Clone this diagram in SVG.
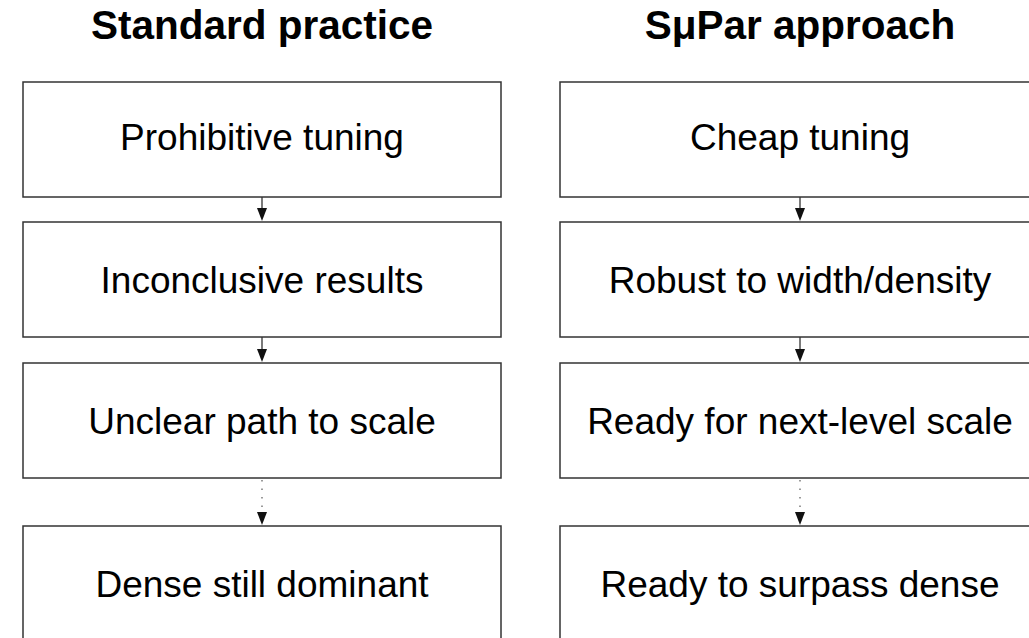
<svg xmlns="http://www.w3.org/2000/svg" width="1029" height="638" viewBox="0 0 1029 638">
<style>
.box{fill:#fff;stroke:#333;stroke-width:1.5}
.lbl{font-family:"Liberation Sans",Arial,sans-serif;font-size:37px;fill:#000;text-anchor:middle}
.title{font-family:"Liberation Sans",Arial,sans-serif;font-size:40.5px;font-weight:bold;fill:#000;text-anchor:middle}
.conn{stroke:#333;stroke-width:1.3;fill:none}
.dot{stroke:#666;stroke-width:1.3;fill:none;stroke-dasharray:1.5 7}
.ah{fill:#111}
</style>
<rect width="1029" height="638" fill="#fff"/>
<text class="title" x="262" y="39">Standard practice</text>
<text class="title" x="800" y="39">SμPar approach</text>
<g id="connectors">
<line class="conn" x1="262" y1="197" x2="262" y2="209"/>
<path class="ah" d="M257,208 L267,208 L262,221 Z"/>
<line class="conn" x1="262" y1="337" x2="262" y2="350"/>
<path class="ah" d="M257,349 L267,349 L262,362 Z"/>
<line class="dot" x1="262" y1="480" x2="262" y2="510"/>
<path class="ah" d="M257,512 L267,512 L262,525 Z"/>
<line class="conn" x1="800" y1="197" x2="800" y2="209"/>
<path class="ah" d="M795,208 L805,208 L800,221 Z"/>
<line class="conn" x1="800" y1="337" x2="800" y2="350"/>
<path class="ah" d="M795,349 L805,349 L800,362 Z"/>
<line class="dot" x1="800" y1="480" x2="800" y2="510"/>
<path class="ah" d="M795,512 L805,512 L800,525 Z"/>
</g>
<g id="n1"><rect class="box" x="23" y="82" width="478" height="115"/><text class="lbl" x="262" y="150">Prohibitive tuning</text></g>
<g id="n2"><rect class="box" x="23" y="222" width="478" height="115"/><text class="lbl" x="262" y="293">Inconclusive results</text></g>
<g id="n3"><rect class="box" x="23" y="363" width="478" height="115"/><text class="lbl" x="262" y="434">Unclear path to scale</text></g>
<g id="n4"><rect class="box" x="23" y="526" width="478" height="116"/><text class="lbl" x="262" y="597">Dense still dominant</text></g>
<g id="m1"><rect class="box" x="560" y="82" width="480" height="115"/><text class="lbl" x="800" y="150">Cheap tuning</text></g>
<g id="m2"><rect class="box" x="560" y="222" width="480" height="115"/><text class="lbl" x="800" y="293">Robust to width/density</text></g>
<g id="m3"><rect class="box" x="560" y="363" width="480" height="115"/><text class="lbl" x="800" y="434">Ready for next-level scale</text></g>
<g id="m4"><rect class="box" x="560" y="526" width="480" height="116"/><text class="lbl" x="800" y="597">Ready to surpass dense</text></g>
</svg>
